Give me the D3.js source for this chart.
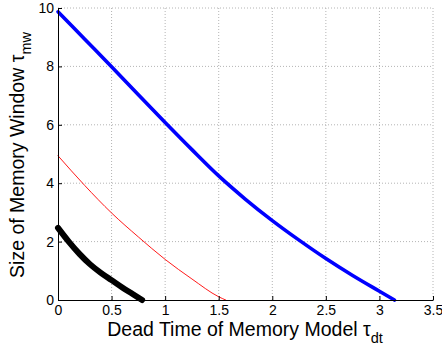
<!DOCTYPE html>
<meta charset="utf-8" />
<style>
  body { margin: 0; background: #fff; }
  text { font-family: 'Liberation Sans', Arial, sans-serif; fill: #000; }
  .grid line { stroke: #b4b4b4; stroke-width: 1; stroke-dasharray: 1,2; }
  .line { fill: none; stroke-linejoin: round; stroke-linecap: round; }
</style>
<svg width="442" height="352"></svg>
<script src="https://d3js.org/d3.v7.min.js"></script>
<script>
  // values
  var blueX = [0, 0.25, 0.5, 0.75, 1, 1.25, 1.5, 1.75, 2, 2.25, 2.5, 2.75, 3, 3.14];
  var blueY = [9.87, 8.93, 7.99, 7.03, 6.08, 5.15, 4.25, 3.45, 2.72, 2.05, 1.42, 0.84, 0.3, 0];
  var redX = [0, 0.25, 0.5, 0.75, 1, 1.25, 1.5, 1.565];
  var redY = [4.94, 3.92, 2.98, 2.16, 1.39, 0.72, 0.11, 0];
  var blackX = [0, 0.1, 0.2, 0.3, 0.4, 0.5, 0.6, 0.7, 0.785];
  var blackY = [2.47, 2.0, 1.58, 1.22, 0.93, 0.68, 0.43, 0.2, 0];
  var xTicks = [0, 0.5, 1, 1.5, 2, 2.5, 3, 3.5];
  var yTicks = [0, 2, 4, 6, 8, 10];

  var svg = d3.select('svg'),
    margin = { top: 8, left: 58 },
    width = 375,
    height = 292,
    g = svg.append('g')
      .attr('transform', 'translate(' + margin.left + ',' + margin.top + ')');

  var x = d3.scaleLinear().domain([0, 3.5]).range([0, width]),
    y = d3.scaleLinear().domain([0, 10]).range([height, 0]);

  // dotted grid
  var grid = g.append('g').attr('class', 'grid');
  grid.selectAll('.gx').data(xTicks.slice(1)).enter().append('line')
    .attr('x1', d => x(d)).attr('x2', d => x(d))
    .attr('y1', 0).attr('y2', height);
  grid.selectAll('.gy').data(yTicks.slice(1)).enter().append('line')
    .attr('x1', 0).attr('x2', width)
    .attr('y1', d => y(d)).attr('y2', d => y(d));

  var line = d3.line()
    .x(d => x(d[0]))
    .y(d => y(d[1]))
    .curve(d3.curveMonotoneX);

  var series = [
    { xs: blueX, ys: blueY, color: '#0000ff', w: 3.6 },
    { xs: redX, ys: redY, color: '#ff0000', w: 0.9 },
    { xs: blackX, ys: blackY, color: '#000000', w: 6 }
  ];

  g.selectAll('.line').data(series).enter().append('path')
    .attr('class', 'line')
    .attr('d', d => line(d.xs.map((v, i) => [v, d.ys[i]])))
    .style('stroke', d => d.color)
    .style('stroke-width', d => d.w);

  // axes, MATLAB style ticks pointing inward
  var xAxis = g.append('g')
    .attr('transform', 'translate(0,' + height + ')')
    .call(d3.axisBottom(x).tickValues(xTicks).tickFormat(d3.format('')).tickSizeInner(-4).tickSizeOuter(0).tickPadding(6));
  var yAxis = g.append('g')
    .call(d3.axisLeft(y).tickValues(yTicks).tickSizeInner(-4).tickSizeOuter(0).tickPadding(4));

  [xAxis, yAxis].forEach(function (a) {
    a.select('.domain').attr('stroke', '#000').attr('stroke-width', 1);
    a.selectAll('.tick line').attr('stroke', '#000');
    a.selectAll('.tick text').style('font-size', '14px')
      .style('font-family', "'Liberation Sans', Arial, sans-serif");
  });
  xAxis.selectAll('.tick text').attr('dy', '0.64em');

  // axis titles
  var xt = svg.append('text')
    .attr('x', 245).attr('y', 336)
    .attr('text-anchor', 'middle')
    .style('font-size', '19.5px')
    .text('Dead Time of Memory Model \u03c4');
  xt.append('tspan').attr('dy', 7).style('font-size', '14.5px').text('dt');

  var yt = svg.append('text')
    .attr('transform', 'translate(24,155) rotate(-90)')
    .attr('text-anchor', 'middle')
    .style('font-size', '19.5px')
    .text('Size of Memory Window \u03c4');
  yt.append('tspan').attr('dy', 7).style('font-size', '14.5px').text('mw');
</script>
